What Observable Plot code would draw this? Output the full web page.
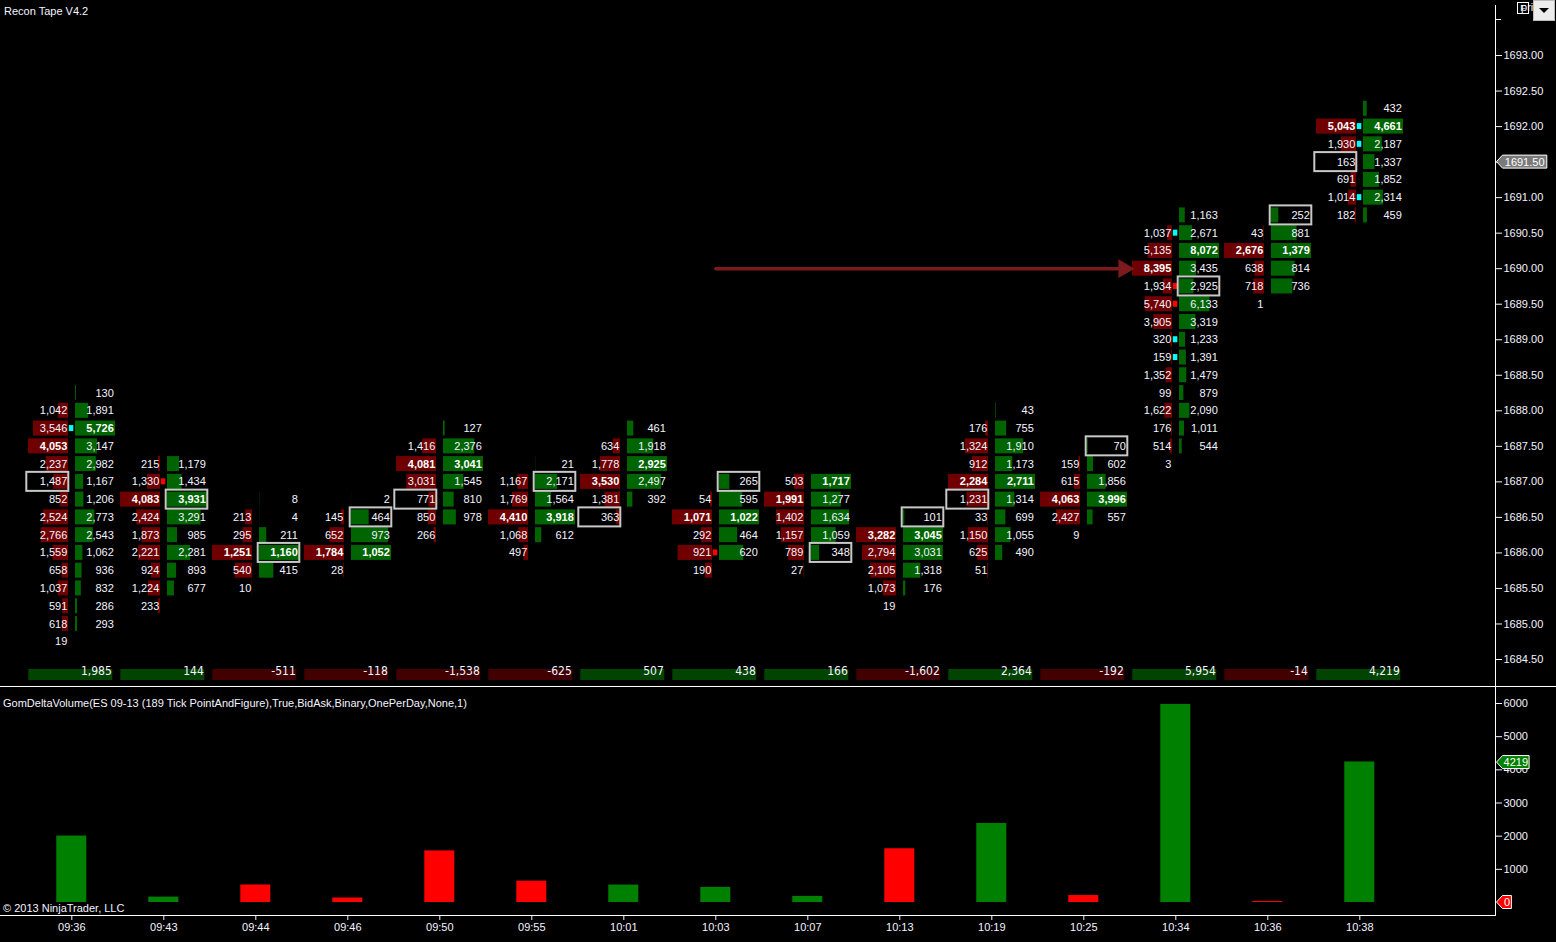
<!DOCTYPE html>
<html>
<head>
<meta charset="utf-8">
<script src="https://cdn.jsdelivr.net/npm/d3@7"></script>
<script src="https://cdn.jsdelivr.net/npm/@observablehq/plot@0.6"></script>
<style>
html,body{margin:0;padding:0;background:#000;}
#wrap{position:relative;width:1556px;height:942px;background:#000;overflow:hidden;font-family:"Liberation Sans",Arial,sans-serif;color:#f4f4ff;}
#toppanel{position:absolute;left:0;top:0;}
#botpanel{position:absolute;left:0;top:686px;}
.lbl{position:absolute;font-size:11px;line-height:13px;color:#f4f4ff;white-space:nowrap;}
#sep{position:absolute;left:0;top:686px;width:1556px;height:1px;background:#fff;}
#fbox{position:absolute;left:1517px;top:2px;width:12px;height:12px;box-sizing:border-box;border:1px solid #fff;font-size:9px;line-height:10px;text-align:center;color:#fff;overflow:hidden;}
#dd{position:absolute;left:1533px;top:0px;width:22px;height:21px;background:#ececec;border:1px solid #bbb;box-sizing:border-box;}
#tri{position:absolute;left:5px;top:7px;width:0;height:0;border-left:5px solid transparent;border-right:5px solid transparent;border-top:5px solid #000;}
</style>
</head>
<body>
<div id="wrap">
  <div id="toppanel"></div>
  <div id="botpanel"></div>
  <div id="sep"></div>
  <div class="lbl" style="left:4px;top:5px;">Recon Tape V4.2</div>
  <div id="fbox">F</div>
  <div id="dd"><div id="tri"></div></div>
  <div class="lbl" style="left:3px;top:697px;">GomDeltaVolume(ES 09-13 (189 Tick PointAndFigure),True,BidAsk,Binary,OnePerDay,None,1)</div>
  <div class="lbl" style="left:3px;top:902px;">© 2013 NinjaTrader, LLC</div>
</div>
<script>
// ---------------- data ----------------
const times = ["09:36","09:43","09:44","09:46","09:50","09:55","10:01","10:03","10:07","10:13","10:19","10:25","10:34","10:36","10:38"];
const deltas = [1985, 144, -511, -118, -1538, -625, 507, 438, 166, -1602, 2364, -192, 5954, -14, 4219];
// highest price level of each bar (rows go down one tick each)
const topPrices = [1688.25, 1687.25, 1686.75, 1686.75, 1687.75, 1687.25, 1687.75, 1687.00, 1687.00, 1686.50, 1688.00, 1687.50, 1690.75, 1690.75, 1692.25];
const bids = [
  [null,1042,3546,4053,2237,1487,852,2524,2766,1559,658,1037,591,618,19],
  [215,1330,4083,2424,1873,2221,924,1224,233],
  [null,213,295,1251,540,10],
  [null,145,652,1784,28],
  [null,1416,4081,3031,771,850,266],
  [null,1167,1769,4410,1068,497],
  [null,634,1778,3530,1381,363],
  [null,54,1071,292,921,190],
  [503,1991,1402,1157,789,27],
  [null,3282,2794,2105,1073,19],
  [null,176,1324,912,2284,1231,33,1150,625,51],
  [null,159,615,4063,2427,9],
  [null,1037,5135,8395,1934,5740,3905,320,159,1352,99,1622,176,514,3],
  [null,43,2676,638,718,1],
  [null,5043,1930,163,691,1014,182]
];
const asks = [
  [130,1891,5726,3147,2982,1167,1206,2773,2543,1062,936,832,286,293,null],
  [1179,1434,3931,3291,985,2281,893,677,null],
  [8,4,211,1160,415,null],
  [2,464,973,1052,null],
  [127,2376,3041,1545,810,978,null],
  [21,2171,1564,3918,612,null],
  [461,1918,2925,2497,392,null],
  [265,595,1022,464,620,null],
  [1717,1277,1634,1059,348,null],
  [101,3045,3031,1318,176,null],
  [43,755,1910,1173,2711,1314,699,1055,490,null],
  [70,602,1856,3996,557,null],
  [1163,2671,8072,3435,2925,6133,3319,1233,1391,1479,879,2090,1011,544,null],
  [252,881,1379,814,736,null],
  [432,4661,2187,1337,1852,2314,459]
];
const closePrices = [1687.00, 1686.75, 1686.00, 1686.50, 1686.75, 1687.00, 1686.50, 1687.00, 1686.00, 1686.50, 1686.75, 1687.50, 1689.75, 1690.75, 1691.50];
const closeSides  = ["bid","ask","ask","ask","bid","ask","bid","ask","ask","ask","bid","ask","ask","ask","bid"];
const imbalanceBars   = [0, 1, 7, 12, 12, 12, 12, 12, 14, 14, 14];
const imbalancePrices = [1687.75, 1687.00, 1686.00, 1690.50, 1689.75, 1689.50, 1689.00, 1688.75, 1692.00, 1691.75, 1691.00];
const imbalanceKinds  = ["buy","sell","sell","buy","sell","sell","buy","buy","buy","buy","buy"];
const priceTicks = [1684.5,1685,1685.5,1686,1686.5,1687,1687.5,1688,1688.5,1689,1689.5,1690,1690.5,1691,1691.5,1692,1692.5,1693];
const deltaTicks = [1000,2000,3000,4000,5000,6000];
const lastPrice = 1691.50;
const arrowNote = [{fromBar: 7, toBar: 12, price: 1690.00}];

// ---------------- layout constants ----------------
const TICK = 0.25, XPX = 92, YPX = 71;   // px per bar step, px per price point
const COLW = 40;
const FONT = '"Liberation Sans", Arial, sans-serif';
const NARROW = '"Liberation Sans Narrow", "Arial Narrow", "DejaVu Sans Condensed", sans-serif';
const comma = d3.format(",");
const fmt = v => (v < 0 ? "-" : "") + comma(Math.abs(v));

const cells = [];
topPrices.forEach((tp, i) => {
  const maxB = d3.max(bids[i]), maxA = d3.max(asks[i]);
  bids[i].forEach((v, r) => { if (v != null) cells.push({bar: i, price: tp - r * TICK, side: "bid", v, frac: v / maxB, max: v === maxB}); });
  asks[i].forEach((v, r) => { if (v != null) cells.push({bar: i, price: tp - r * TICK, side: "ask", v, frac: v / maxA, max: v === maxA}); });
});
const bidCells = cells.filter(d => d.side === "bid");
const askCells = cells.filter(d => d.side === "ask");
const closeCells = closePrices.map((p, i) => ({bar: i, price: p, side: closeSides[i]}));
const imbal = imbalanceBars.map((b, k) => ({bar: b, price: imbalancePrices[k], kind: imbalanceKinds[k]}));
const deltaRows = deltas.map((v, i) => ({i, v, time: times[i]}));

const textX = d => d.side === "bid" ? d.bar - 4.5 / XPX : d.bar + 42 / XPX;

// price tag (pentagon label) drawn on the right axis through the plot's y scale
function tag(value, label, fill) {
  return (index, scales, values, dims) => {
    const y = scales.y(value);
    const x0 = dims.width - dims.marginRight + 1.5;
    const w = label.length * 5.9 + 3;
    const g = d3.create("svg:g");
    g.append("path")
      .attr("d", `M${x0},${y} L${x0 + 6},${y - 6.5} L${x0 + 6 + w},${y - 6.5} L${x0 + 6 + w},${y + 6.5} L${x0 + 6},${y + 6.5} Z`)
      .attr("fill", fill).attr("stroke", "#fff").attr("stroke-width", 1);
    g.append("text").attr("x", x0 + 6 + w / 2).attr("y", y).attr("dy", "0.36em")
      .attr("text-anchor", "middle").attr("fill", "#fff").attr("font-size", 11)
      .attr("font-family", FONT).text(label);
    return g.node();
  };
}
// bare tick (no label) on the right axis
function bareTick(value) {
  return (index, scales, values, dims) => {
    const y = scales.y(value);
    const x0 = dims.width - dims.marginRight;
    return d3.create("svg:line").attr("x1", x0).attr("x2", x0 + 6).attr("y1", y).attr("y2", y)
      .attr("stroke", "#f4f4ff").node();
  };
}

// ---------------- top panel: footprint ----------------
const topPlot = Plot.plot({
  width: 1556, height: 686,
  marginTop: 5, marginRight: 61, marginBottom: 0, marginLeft: 0,
  style: {background: "transparent", color: "#fff", fontFamily: FONT},
  x: {type: "linear", domain: [0, 14], range: [71.3, 1359.3], axis: null},
  y: {type: "linear", domain: [1684.5, 1693.5], range: [659, 19.5]},
  color: {type: "identity"},
  marks: [
    // summary (delta per bar) row
    Plot.rect(deltaRows, {x1: d => d.i - 43 / XPX, x2: d => d.i + 41 / XPX, insetTop: 664, insetBottom: 6,
      fill: d => d.v >= 0 ? "#004400" : "#420000"}),
    Plot.text(deltaRows, {x: d => d.i + 40 / XPX, frameAnchor: "bottom", dy: -11.5, text: d => fmt(d.v),
      textAnchor: "end", fill: "#f4f4ff", fontSize: 12, fontFamily: NARROW}),
    // volume bars
    Plot.rect(bidCells, {x1: d => d.bar - (3.3 + COLW * d.frac) / XPX, x2: d => d.bar - 3.3 / XPX,
      y1: d => d.price - 7.5 / YPX, y2: d => d.price + 7.5 / YPX, fill: "#700000"}),
    Plot.rect(askCells, {x1: d => d.bar + 3.7 / XPX, x2: d => d.bar + (3.7 + COLW * d.frac) / XPX,
      y1: d => d.price - 7.5 / YPX, y2: d => d.price + 7.5 / YPX, fill: "#006400"}),
    // imbalance markers
    Plot.rect(imbal, {x1: d => d.bar - 2.5 / XPX, x2: d => d.bar + 2 / XPX,
      y1: d => d.price - 3 / YPX, y2: d => d.price + 3 / YPX,
      fill: d => d.kind === "buy" ? "#00ffff" : "#ff0000"}),
    // close boxes
    Plot.rect(closeCells, {
      x1: d => d.side === "bid" ? d.bar - 45 / XPX : d.bar + 2.4 / XPX,
      x2: d => d.side === "bid" ? d.bar - 3 / XPX : d.bar + 44 / XPX,
      y1: d => d.price - 9.5 / YPX, y2: d => d.price + 9.5 / YPX,
      fill: "none", stroke: "#c8c8c8", strokeWidth: 2}),
    // numbers
    Plot.text(cells.filter(d => !d.max), {x: textX, y: "price", text: d => fmt(d.v), textAnchor: "end",
      fill: "#f4f4ff", fontSize: 11, fontFamily: FONT}),
    Plot.text(cells.filter(d => d.max), {x: textX, y: "price", text: d => fmt(d.v), textAnchor: "end",
      fill: "#ffffff", fontSize: 11, fontWeight: "bold", fontFamily: FONT}),
    // annotation arrow
    Plot.link(arrowNote, {x1: "fromBar", x2: d => d.toBar - 58 / XPX, y1: "price", y2: "price",
      stroke: "#7d1a1e", strokeWidth: 3.5, strokeLinecap: "round"}),
    Plot.dot(arrowNote, {x: d => d.toBar - 52 / XPX, y: "price", symbol: "triangle", r: 7, rotate: 90,
      fill: "#7d1a1e", stroke: "none"}),
    // price axis
    Plot.frame({anchor: "right", stroke: "#fff"}),
    Plot.axisY(priceTicks, {anchor: "right", tickSize: 6, tickPadding: 2, tickFormat: d => d.toFixed(2),
      color: "#f4f4ff", fontSize: 11}),
    bareTick(1693.5),
    tag(lastPrice, lastPrice.toFixed(2), "#7a7a7a")
  ]
});
document.getElementById("toppanel").appendChild(topPlot);

// ---------------- bottom panel: delta volume ----------------
const lastDelta = deltas[deltas.length - 1];
const botPlot = Plot.plot({
  width: 1556, height: 256,
  marginTop: 0, marginRight: 61, marginBottom: 27, marginLeft: 0,
  style: {background: "transparent", color: "#fff", fontFamily: FONT},
  x: {type: "linear", domain: [0, 14], range: [71.3, 1359.3]},
  y: {type: "linear", domain: [0, 6000], range: [216, 17]},
  color: {type: "identity"},
  marks: [
    Plot.rect(deltaRows, {x1: d => d.i - 15 / XPX, x2: d => d.i + 15 / XPX, y1: 0, y2: d => Math.abs(d.v),
      insetTop: -0.6, fill: d => d.v >= 0 ? "#008000" : "#ff0000"}),
    Plot.frame({anchor: "bottom", stroke: "#fff"}),
    Plot.frame({anchor: "right", stroke: "#fff"}),
    Plot.axisX(d3.range(times.length), {anchor: "bottom", tickSize: 5, tickPadding: 3,
      tickFormat: i => times[i], color: "#f4f4ff", fontSize: 11}),
    Plot.axisY(deltaTicks, {anchor: "right", tickSize: 6, tickPadding: 2, tickFormat: d => String(d),
      color: "#f4f4ff", fontSize: 11}),
    tag(lastDelta, String(lastDelta), "#008000"),
    tag(0, "0", "#ff0000")
  ]
});
document.getElementById("botpanel").appendChild(botPlot);
</script>
</body>
</html>
